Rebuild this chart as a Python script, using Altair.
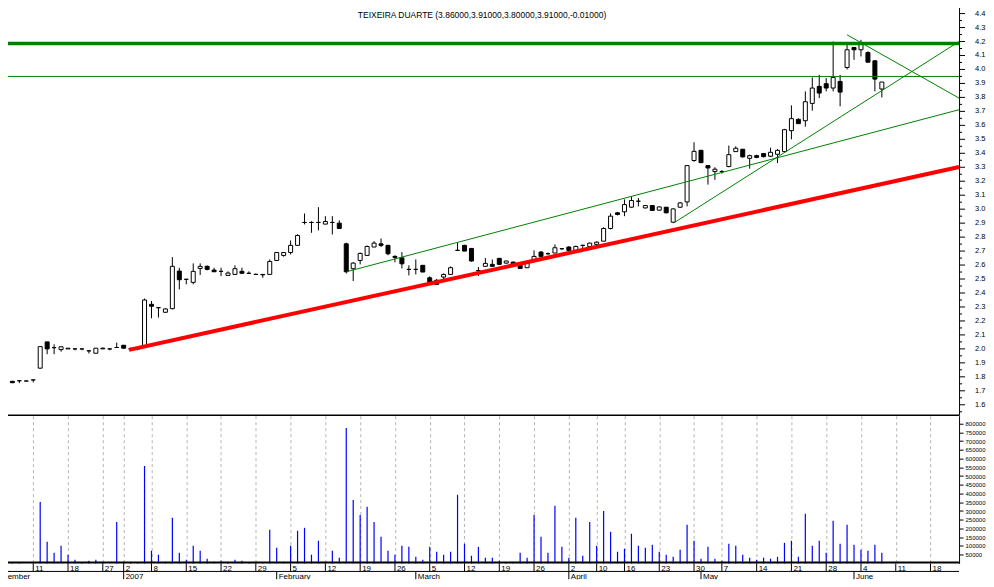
import altair as alt
import pandas as pd

# ---------------- data ----------------
TITLE = "TEIXEIRA DUARTE (3.86000,3.91000,3.80000,3.91000,-0.01000)"

# trading-day index (0 = 11 Dec 2006)
idx = list(range(-4, 123))

opens = [1.770, 1.768, 1.772, 1.770, 1.778, 1.862, 2.050, 2.009, 1.995, 2.000,
         2.000, 2.000, 1.986, 1.969, 2.000, 2.000, 2.010, 2.026, 2.000, 2.000,
         2.020, 2.319, 2.295, 2.262, 2.288, 2.557, 2.498, 2.476, 2.576, 2.591,
         2.564, 2.555, 2.526, 2.533, 2.555, 2.541, 2.533, 2.533, 2.533, 2.633,
         2.669, 2.690, 2.741, 2.905, 2.905, 2.905, 2.893, 2.905, 2.900, 2.752,
         2.574, 2.633, 2.669, 2.729, 2.752, 2.741, 2.662, 2.652, 2.569, 2.569,
         2.598, 2.509, 2.491, 2.514, 2.533, 2.705, 2.741, 2.719, 2.560, 2.591,
         2.605, 2.648, 2.614, 2.621, 2.605, 2.581, 2.629, 2.693, 2.681, 2.686,
         2.717, 2.729, 2.705, 2.741, 2.733, 2.748, 2.771, 2.862, 2.974, 2.981,
         3.014, 3.057, 3.009, 3.026, 2.993, 3.014, 2.907, 3.014, 3.052, 3.348,
         3.421, 3.312, 3.269, 3.269, 3.305, 3.412, 3.429, 3.364, 3.383, 3.398,
         3.379, 3.393, 3.412, 3.562, 3.643, 3.633, 3.757, 3.879, 3.898, 3.867,
         3.914, 4.014, 4.157, 4.141, 4.121, 4.062, 3.860]
highs = [1.775, 1.770, 1.772, 1.772, 1.778, 2.016, 2.050, 2.033, 2.016, 2.005,
         2.000, 2.000, 1.986, 2.005, 2.010, 2.000, 2.045, 2.026, 2.010, 2.010,
         2.360, 2.343, 2.295, 2.290, 2.657, 2.581, 2.500, 2.612, 2.612, 2.598,
         2.581, 2.581, 2.555, 2.598, 2.581, 2.555, 2.540, 2.533, 2.640, 2.690,
         2.690, 2.776, 2.820, 2.969, 2.914, 3.014, 2.950, 2.950, 2.920, 2.760,
         2.620, 2.690, 2.740, 2.771, 2.790, 2.745, 2.670, 2.693, 2.598, 2.640,
         2.600, 2.520, 2.500, 2.540, 2.590, 2.760, 2.745, 2.720, 2.586, 2.650,
         2.640, 2.650, 2.630, 2.625, 2.610, 2.620, 2.705, 2.700, 2.690, 2.748,
         2.720, 2.735, 2.740, 2.745, 2.760, 2.770, 2.870, 2.970, 2.980, 3.070,
         3.090, 3.080, 3.030, 3.030, 3.020, 3.015, 3.005, 3.050, 3.315, 3.479,
         3.425, 3.315, 3.300, 3.280, 3.455, 3.450, 3.430, 3.390, 3.390, 3.400,
         3.440, 3.430, 3.575, 3.743, 3.650, 3.843, 3.943, 3.962, 3.938, 4.200,
         3.962, 4.188, 4.160, 4.212, 4.130, 4.065, 3.910]
lows = [1.765, 1.755, 1.755, 1.768, 1.760, 1.860, 1.962, 1.962, 1.980, 2.000,
        1.990, 1.990, 1.967, 1.969, 2.000, 1.990, 2.010, 2.000, 1.990, 1.990,
        2.010, 2.219, 2.224, 2.260, 2.283, 2.426, 2.462, 2.462, 2.529, 2.562,
        2.550, 2.521, 2.526, 2.533, 2.541, 2.540, 2.530, 2.509, 2.533, 2.633,
        2.660, 2.676, 2.741, 2.891, 2.831, 2.848, 2.893, 2.819, 2.862, 2.540,
        2.486, 2.605, 2.669, 2.729, 2.729, 2.670, 2.620, 2.576, 2.526, 2.533,
        2.550, 2.462, 2.460, 2.500, 2.533, 2.705, 2.700, 2.625, 2.521, 2.591,
        2.585, 2.600, 2.610, 2.600, 2.576, 2.580, 2.620, 2.660, 2.675, 2.686,
        2.710, 2.705, 2.700, 2.720, 2.730, 2.740, 2.771, 2.855, 2.955, 2.950,
        3.010, 3.020, 3.005, 2.990, 2.990, 2.970, 2.900, 3.010, 3.020, 3.340,
        3.330, 3.176, 3.210, 3.255, 3.300, 3.410, 3.370, 3.290, 3.365, 3.370,
        3.375, 3.330, 3.410, 3.500, 3.610, 3.590, 3.705, 3.795, 3.843, 3.843,
        3.736, 4.000, 4.069, 4.093, 4.050, 3.843, 3.800]
closes = [1.770, 1.758, 1.772, 1.770, 1.778, 2.016, 2.000, 2.009, 2.015, 2.005,
          2.000, 2.000, 1.986, 2.005, 2.005, 2.000, 2.010, 2.005, 2.000, 2.000,
          2.350, 2.305, 2.295, 2.286, 2.591, 2.495, 2.498, 2.555, 2.591, 2.569,
          2.552, 2.555, 2.543, 2.574, 2.541, 2.541, 2.533, 2.530, 2.626, 2.690,
          2.690, 2.741, 2.812, 2.905, 2.905, 2.905, 2.912, 2.905, 2.862, 2.552,
          2.614, 2.683, 2.733, 2.757, 2.741, 2.681, 2.655, 2.609, 2.569, 2.569,
          2.550, 2.479, 2.462, 2.533, 2.581, 2.705, 2.700, 2.629, 2.560, 2.612,
          2.591, 2.605, 2.629, 2.605, 2.576, 2.614, 2.662, 2.662, 2.681, 2.724,
          2.717, 2.705, 2.733, 2.741, 2.757, 2.764, 2.862, 2.950, 2.962, 3.033,
          3.062, 3.057, 3.026, 2.991, 3.016, 2.974, 3.002, 3.045, 3.312, 3.414,
          3.333, 3.295, 3.286, 3.269, 3.390, 3.436, 3.374, 3.383, 3.371, 3.376,
          3.407, 3.421, 3.569, 3.648, 3.612, 3.769, 3.867, 3.831, 3.867, 3.943,
          3.838, 4.141, 4.141, 4.188, 4.052, 3.931, 3.910]
volumes = [0, 6000, 6000, 0, 6000, 352000, 124000, 61000, 101000, 50000,
           21000, 6000, 15000, 21000, 10000, 0, 238000, 10000, 6000, 6000,
           558000, 73000, 50000, 10000, 261000, 61000, 21000, 101000, 73000, 27000,
           10000, 15000, 10000, 21000, 15000, 6000, 6000, 6000, 193000, 90000,
           10000, 101000, 187000, 204000, 50000, 130000, 10000, 73000, 33000, 775000,
           364000, 278000, 324000, 238000, 153000, 73000, 50000, 101000, 95000, 38000,
           21000, 95000, 67000, 50000, 67000, 393000, 113000, 44000, 95000, 33000,
           33000, 15000, 6000, 10000, 61000, 33000, 278000, 153000, 61000, 330000,
           95000, 33000, 261000, 44000, 238000, 101000, 301000, 181000, 67000, 84000,
           170000, 101000, 90000, 107000, 67000, 50000, 38000, 78000, 221000, 130000,
           27000, 95000, 27000, 15000, 113000, 101000, 50000, 33000, 21000, 33000,
           27000, 38000, 118000, 130000, 38000, 284000, 101000, 130000, 61000, 244000,
           113000, 221000, 107000, 78000, 73000, 107000, 61000]

# date axis labels (trading-day index -> text)
day_idx = [0, 5, 10, 13, 17, 22, 27, 32, 37, 42, 47, 52, 57, 62, 67, 72, 77,
           81, 85, 90, 95, 99, 104, 109, 114, 119, 124, 129]
day_lbl = ["11", "18", "27", "2", "8", "15", "22", "29", "5", "12", "19", "26",
           "5", "12", "19", "26", "2", "10", "16", "23", "30", "7", "14", "21",
           "28", "4", "11", "18"]
month_idx = [-6, 13, 35, 55, 77, 96, 118]
month_lbl = ["December", "2007", "February", "March", "April", "May", "June"]

price_ticks = [1.6, 1.7, 1.8, 1.9, 2.0, 2.1, 2.2, 2.3, 2.4, 2.5, 2.6, 2.7, 2.8,
               2.9, 3.0, 3.1, 3.2, 3.3, 3.4, 3.5, 3.6, 3.7, 3.8, 3.9, 4.0, 4.1,
               4.2, 4.3, 4.4]
price_labels = ["1.6", "1.7", "1.8", "1.9", "2.0", "2.1", "2.2", "2.3", "2.4",
                "2.5", "2.6", "2.7", "2.8", "2.9", "3.0", "3.1", "3.2", "3.3",
                "3.4", "3.5", "3.6", "3.7", "3.8", "3.9", "4.0", "4.1", "4.2",
                "4.3", "4.4"]
price_minor = [1.55, 1.65, 1.75, 1.85, 1.95, 2.05, 2.15, 2.25, 2.35, 2.45, 2.55,
               2.65, 2.75, 2.85, 2.95, 3.05, 3.15, 3.25, 3.35, 3.45, 3.55, 3.65,
               3.75, 3.85, 3.95, 4.05, 4.15, 4.25, 4.35, 4.45]
vol_ticks = [50000, 100000, 150000, 200000, 250000, 300000, 350000, 400000,
             450000, 500000, 550000, 600000, 650000, 700000, 750000, 800000]

# drawn lines: horizontal levels and trend lines (index, price)
hline_p = [4.185, 3.95]
hline_w = [3.5, 1.0]
hline_c = ["#008000", "#008000"]

trend_seg = ["red", "red", "chan", "chan", "rise", "rise", "fall", "fall"]
trend_i = [13.77, 133.1, 45.1, 133.1, 92.1, 133.1, 117.0, 133.1]
trend_p = [1.993, 3.302, 2.553, 3.712, 2.902, 4.200, 4.248, 3.795]
trend_c = ["#ff0000", "#ff0000", "#008000", "#008000", "#008000", "#008000",
           "#008000", "#008000"]
trend_w = [4, 4, 1, 1, 1, 1, 1, 1]

# ---------------- tables ----------------
ohlc = pd.DataFrame({"i": idx, "o": opens, "h": highs, "l": lows, "c": closes,
                     "v": volumes})
ohlc["lo"] = ohlc[["o", "c"]].min(axis=1)
ohlc["hi"] = ohlc[["o", "c"]].max(axis=1)
ohlc["dir"] = ["up" if c >= o else "down" for o, c in zip(opens, closes)]

days = pd.DataFrame({"i": day_idx, "t": day_lbl})
months = pd.DataFrame({"i": month_idx, "t": month_lbl})
hl = pd.DataFrame({"p": hline_p, "w": hline_w, "c": hline_c})
tl = pd.DataFrame({"seg": trend_seg, "i": trend_i, "p": trend_p, "c": trend_c,
                   "w": trend_w})
pmajor = pd.DataFrame({"p": price_ticks, "t": price_labels})
pminor = pd.DataFrame({"p": price_minor})
one = pd.DataFrame({"t": [TITLE]})

FONT = "Liberation Sans"
W = 959          # plot width (right axis line at x = 959)
PH = 415         # price panel height
VH = 148         # volume panel height
DH = 16          # date-axis panel height

xscale = alt.Scale(domain=[-4.49, 133.1], nice=False, zero=False, padding=0)
yscale = alt.Scale(domain=[4.4 - (PH - 12) / 140.0, 4.4 + 12 / 140.0],
                   nice=False, zero=False, padding=0)
vscale = alt.Scale(domain=[0, 845700], nice=False, padding=0)

grid_axis = alt.Axis(values=day_idx, grid=True, labels=False, ticks=False,
                     domain=False, title=None, gridColor="#b4b4b4",
                     gridDash=[3, 3], gridWidth=1)

# ---------------- price panel ----------------
wicks = alt.Chart(ohlc).mark_rule(color="black", strokeWidth=1).encode(
    x=alt.X("i:Q", scale=xscale, axis=grid_axis),
    y=alt.Y("l:Q", scale=yscale, axis=None),
    y2="h:Q",
)
bodies = alt.Chart(ohlc).mark_bar(size=4, stroke="black", strokeWidth=1).encode(
    x=alt.X("i:Q", scale=xscale, axis=None),
    y=alt.Y("lo:Q", scale=yscale, axis=None),
    y2="hi:Q",
    fill=alt.Fill("dir:N", scale=alt.Scale(domain=["up", "down"],
                                           range=["white", "black"]),
                  legend=None),
)
hlines = alt.Chart(hl).mark_rule().encode(
    y=alt.Y("p:Q", scale=yscale, axis=None),
    strokeWidth=alt.StrokeWidth("w:Q", scale=None),
    color=alt.Color("c:N", scale=None),
)
trends = alt.Chart(tl).mark_line(clip=True).encode(
    x=alt.X("i:Q", scale=xscale, axis=None),
    y=alt.Y("p:Q", scale=yscale, axis=None),
    detail="seg:N",
    color=alt.Color("c:N", scale=None),
    strokeWidth=alt.StrokeWidth("w:Q", scale=None),
)
# right-hand price axis drawn from the tick arrays
p_domain = alt.Chart(one).mark_rule(color="black", strokeWidth=1).encode(
    x=alt.value(W + 0.5), y=alt.value(0), y2=alt.value(PH))
p_major = alt.Chart(pmajor).mark_rule(color="black").encode(
    y=alt.Y("p:Q", scale=yscale, axis=None),
    x=alt.value(W), x2=alt.value(W + 6),
)
p_minor = alt.Chart(pminor).mark_rule(color="black").encode(
    y=alt.Y("p:Q", scale=yscale, axis=None),
    x=alt.value(W), x2=alt.value(W + 3),
)
p_text = alt.Chart(pmajor).mark_text(align="left", baseline="middle", font=FONT,
                                     fontSize=7.5, color="black").encode(
    y=alt.Y("p:Q", scale=yscale, axis=None),
    x=alt.value(W + 16),
    text="t:N",
)
title = alt.Chart(one).mark_text(font=FONT, fontSize=8.5, color="black",
                                 baseline="alphabetic").encode(
    text="t:N", x=alt.value(481), y=alt.value(16))
pborder = alt.Chart(one).mark_rule(color="black", strokeWidth=1.5).encode(
    x=alt.value(0), x2=alt.value(W), y=alt.value(PH - 0.5))

price = alt.layer(wicks, bodies, hlines, trends, p_domain, p_major, p_minor,
                  p_text, title, pborder).properties(width=W, height=PH)

# ---------------- volume panel ----------------
vbars = alt.Chart(ohlc).mark_bar(size=1.2, color="#0000ff").encode(
    x=alt.X("i:Q", scale=xscale, axis=grid_axis),
    y=alt.Y("v:Q", scale=vscale,
            axis=alt.Axis(orient="right", values=vol_ticks, format="d",
                          tickSize=4, labelPadding=2, labelFontSize=6,
                          labelFont=FONT, title=None, grid=False,
                          labelOverlap=False, domainColor="black",
                          tickColor="black", labelColor="black")),
)
vborder = alt.Chart(one).mark_rule(color="black", strokeWidth=2).encode(
    x=alt.value(0), x2=alt.value(W), y=alt.value(VH - 1))
volume = alt.layer(vbars, vborder).properties(width=W, height=VH)

# ---------------- date axis panel ----------------
ROW = DH / 2.0
dticks = alt.Chart(days).mark_rule(color="black", strokeWidth=1).encode(
    x=alt.X("i:Q", scale=xscale, axis=None), y=alt.value(0), y2=alt.value(ROW))
dtext = alt.Chart(days).mark_text(align="left", dx=2, font=FONT, fontSize=8,
                                  baseline="alphabetic", color="black",
                                  clip=True).encode(
    x=alt.X("i:Q", scale=xscale, axis=None), y=alt.value(ROW - 0.5), text="t:N")
mticks = alt.Chart(months).mark_rule(color="black", strokeWidth=1,
                                     clip=True).encode(
    x=alt.X("i:Q", scale=xscale, axis=None), y=alt.value(ROW), y2=alt.value(DH))
mtext = alt.Chart(months).mark_text(align="left", dx=2, font=FONT, fontSize=8,
                                    baseline="alphabetic", color="black",
                                    clip=True).encode(
    x=alt.X("i:Q", scale=xscale, axis=None), y=alt.value(DH - 0.5), text="t:N")
rowline = alt.Chart(one).mark_rule(color="black", strokeWidth=1).encode(
    x=alt.value(0), x2=alt.value(W), y=alt.value(ROW))
dateaxis = alt.layer(dticks, dtext, mticks, mtext, rowline).properties(
    width=W, height=DH)

chart = alt.vconcat(price, volume, dateaxis, spacing=0, bounds="flush").properties(
    padding={"left": -8, "top": -8, "right": 0, "bottom": 0},
    background="white",
).configure_view(stroke=None).configure_concat(spacing=0)

chart.save("out.html", embed_options={"renderer": "svg", "actions": False})
